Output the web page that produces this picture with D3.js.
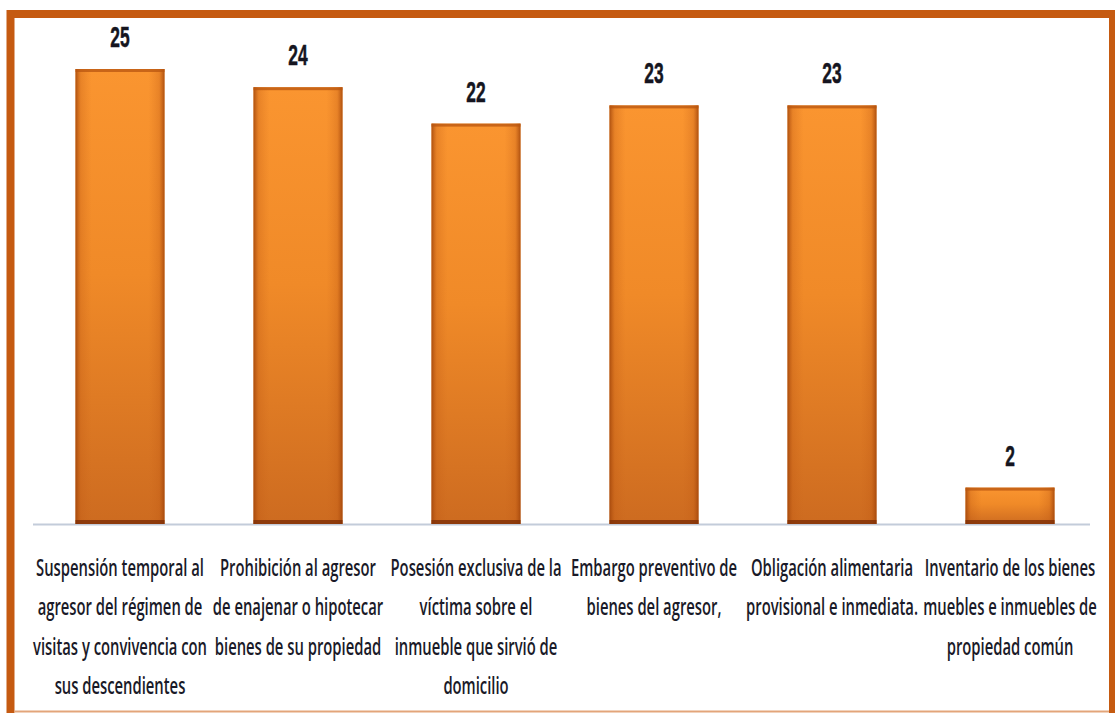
<!DOCTYPE html>
<html><head><meta charset="utf-8">
<script src="https://cdn.jsdelivr.net/npm/d3@7"></script>
<style>html,body{margin:0;padding:0;background:#fff;}svg{display:block;}</style>
</head><body>
<script>
const categories = [
  ["Suspensión temporal al","agresor del régimen de","visitas y convivencia con","sus descendientes"],
  ["Prohibición al agresor","de enajenar o hipotecar","bienes de su propiedad"],
  ["Posesión exclusiva de la","víctima sobre el","inmueble que sirvió de","domicilio"],
  ["Embargo preventivo de","bienes del agresor,"],
  ["Obligación alimentaria","provisional e inmediata."],
  ["Inventario de los bienes","muebles e inmuebles de","propiedad común"]
];
const values = [25, 24, 22, 23, 23, 2];

const W = 1115, H = 713;
const svg = d3.select("body").append("svg").attr("width", W).attr("height", H);
const defs = svg.append("defs");

const vg = defs.append("linearGradient").attr("id","vg").attr("x1",0).attr("y1",0).attr("x2",0).attr("y2",1);
vg.append("stop").attr("offset","0%").attr("stop-color","#fa9530");
vg.append("stop").attr("offset","45%").attr("stop-color","#f08a28");
vg.append("stop").attr("offset","100%").attr("stop-color","#cd6b20");

const hg = defs.append("linearGradient").attr("id","hg").attr("x1",0).attr("y1",0).attr("x2",1).attr("y2",0);
hg.append("stop").attr("offset","0%").attr("stop-color","#a0440a").attr("stop-opacity",0.85);
hg.append("stop").attr("offset","6%").attr("stop-color","#c05a14").attr("stop-opacity",0.3);
hg.append("stop").attr("offset","18%").attr("stop-color","#c8621a").attr("stop-opacity",0);
hg.append("stop").attr("offset","82%").attr("stop-color","#c8621a").attr("stop-opacity",0);
hg.append("stop").attr("offset","94%").attr("stop-color","#c05a14").attr("stop-opacity",0.3);
hg.append("stop").attr("offset","100%").attr("stop-color","#a0440a").attr("stop-opacity",0.85);

const x = d3.scaleBand().domain(d3.range(categories.length)).range([31, 1099]).paddingInner(0.5).paddingOuter(0.25);
const y = d3.scaleLinear().domain([0, 25]).range([524, 69]);

// baseline
svg.append("line").attr("x1", 33).attr("x2", 1090).attr("y1", y(0)+0.5).attr("y2", y(0)+0.5)
  .attr("stroke", "#c3ccda").attr("stroke-width", 2);

const bars = svg.append("g").selectAll("g").data(values).join("g");
bars.append("rect").attr("x",(d,i)=>x(i)).attr("y",d=>y(d)).attr("width",x.bandwidth()).attr("height",d=>y(0)-y(d))
  .attr("fill","url(#vg)");
bars.append("rect").attr("x",(d,i)=>x(i)).attr("y",d=>y(d)).attr("width",x.bandwidth()).attr("height",d=>y(0)-y(d))
  .attr("fill","url(#hg)");
bars.append("rect").attr("x",(d,i)=>x(i)).attr("y",d=>y(d)).attr("width",x.bandwidth()).attr("height",3)
  .attr("fill","#b85510").attr("opacity",0.75);
bars.append("rect").attr("x",(d,i)=>x(i)).attr("y",d=>y(0)-4).attr("width",x.bandwidth()).attr("height",4)
  .attr("fill","#7e3008").attr("opacity",0.8);

// value labels
bars.append("text")
  .attr("transform",(d,i)=>`translate(${x(i)+x.bandwidth()/2},${y(d)-22}) scale(0.6,1)`)
  .attr("text-anchor","middle")
  .attr("font-family","Liberation Sans, Arial, sans-serif")
  .attr("font-weight","bold").attr("font-size",29).attr("fill","#151520")
  .attr("stroke","#151520").attr("stroke-width",0.5)
  .text(d=>d);

// category labels
const lab = svg.append("g").selectAll("text").data(categories).join("text")
  .attr("text-anchor","middle")
  .attr("font-family","Open Sans, sans-serif").attr("font-weight",600)
  .attr("font-size",23).attr("fill","#1a1a28");
lab.selectAll("tspan").data(d=>d).join("tspan")
  .attr("x",0).attr("y",(d,j)=>j*39.5).text(d=>d);
// horizontal condensing to match the reference's narrow face
const firstLen = lab.filter((d,i)=>i===0).select("tspan").node().getComputedTextLength();
const sx = 168 / firstLen;
lab.attr("transform",(d,i)=>`translate(${x(i)+x.bandwidth()/2},576) scale(${sx},1)`);

// border
svg.append("path").attr("d",`M10.5,${H+10} L10.5,14 L1113,14 L1113,${H+10}`)
  .attr("fill","none").attr("stroke","#c55a11").attr("stroke-width",8);
svg.append("line").attr("x1",14).attr("x2",1109).attr("y1",711.5).attr("y2",711.5)
  .attr("stroke","#e3a57a").attr("stroke-width",2);
</script>
</body></html>
